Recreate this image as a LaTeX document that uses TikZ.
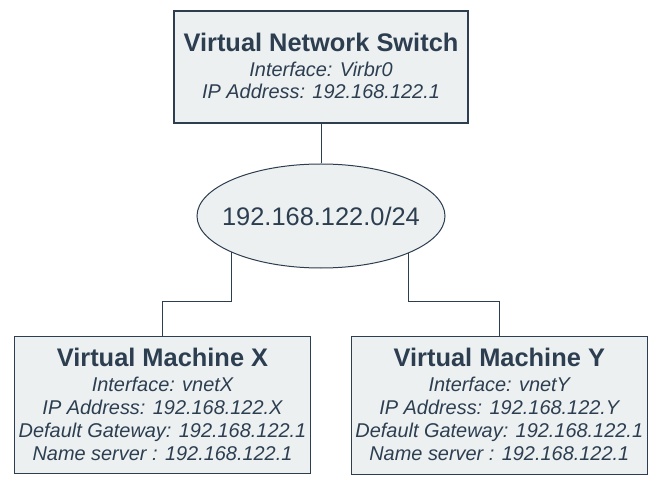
\documentclass[tikz,border=0pt]{standalone}
\usepackage{fontspec}
\setmainfont{Liberation Sans}
\usetikzlibrary{shapes.geometric}
\definecolor{ink}{HTML}{2C3E50}
\definecolor{boxfill}{HTML}{ECF0F1}
\begin{document}
\begin{tikzpicture}[x=1bp,y=-1bp,
  box/.style={draw=ink,fill=boxfill,line width=1.1bp,rectangle,inner sep=0},
  net/.style={draw=ink,fill=boxfill,line width=1bp,ellipse,inner sep=0},
  wire/.style={draw=ink,line width=1bp},
  ttl/.style={anchor=base,inner sep=0,text=ink,font=\fontsize{25.5}{30}\selectfont\bfseries},
  info/.style={anchor=base,inner sep=0,text=ink,font=\fontsize{20}{24}\selectfont\itshape},
  big/.style={anchor=base,inner sep=0,text=ink,font=\fontsize{25.5}{30}\selectfont}]
\useasboundingbox (0,0) rectangle (660,491);
\node[box,minimum width=294bp,minimum height=112bp] (vns) at (321,67) {};
\node[net,minimum width=248bp,minimum height=104bp] (ell) at (321,216) {};
\node[box,minimum width=296.5bp,minimum height=137.5bp] (vmx) at (162.5,405) {};
\node[box,minimum width=295.5bp,minimum height=137.5bp] (vmy) at (499.3,405.3) {};
\coordinate (jy) at (0,301.5);
\draw[wire] (vns.south) -- (ell.north);
\draw[wire] (ell.202.6) -- (ell.202.6 |- jy) -| (vmx.north);
\draw[wire] (ell.337.4) -- (ell.337.4 |- jy) -| (vmy.north);
% top box text
\node[ttl] (t0) at (321,52) {Virtual Network Switch};
\node[info] (t1) at (321,76.5) {Interface: Virbr0};
\node[info] (t2) at (321,99) {IP Address: 192.168.122.1};
% ellipse text
\node[big] (e0) at (321,226) {192.168.122.0/24};
% left box text
\node[ttl] (x0) at (162.5,366.7) {Virtual Machine X};
\node[info] (x1) at (162.5,391.7) {Interface: vnetX};
\node[info] (x2) at (162.5,414.8) {IP Address: 192.168.122.X};
\node[info] (x3) at (162.5,437.5) {Default Gateway: 192.168.122.1};
\node[info] (x4) at (162.5,460.2) {Name server : 192.168.122.1};
% right box text
\node[ttl] (y0) at (499.3,366.7) {Virtual Machine Y};
\node[info] (y1) at (499.3,391.7) {Interface: vnetY};
\node[info] (y2) at (499.3,414.8) {IP Address: 192.168.122.Y};
\node[info] (y3) at (499.3,437.5) {Default Gateway: 192.168.122.1};
\node[info] (y4) at (499.3,460.2) {Name server : 192.168.122.1};
\end{tikzpicture}
\end{document}
